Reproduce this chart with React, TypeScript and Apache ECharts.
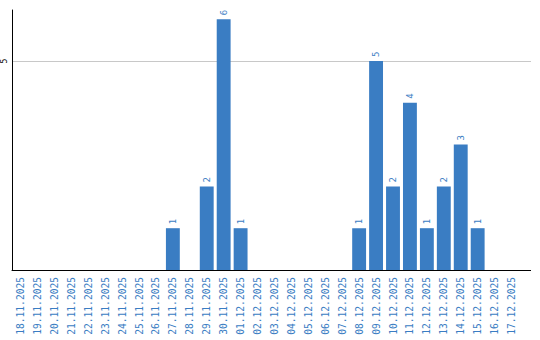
import React, { useEffect, useRef } from "react";
import * as echarts from "echarts";

const categories: string[] = [
  "18.11.2025", "19.11.2025", "20.11.2025", "21.11.2025", "22.11.2025",
  "23.11.2025", "24.11.2025", "25.11.2025", "26.11.2025", "27.11.2025",
  "28.11.2025", "29.11.2025", "30.11.2025", "01.12.2025", "02.12.2025",
  "03.12.2025", "04.12.2025", "05.12.2025", "06.12.2025", "07.12.2025",
  "08.12.2025", "09.12.2025", "10.12.2025", "11.12.2025", "12.12.2025",
  "13.12.2025", "14.12.2025", "15.12.2025", "16.12.2025", "17.12.2025",
];

const counts: number[] = [
  0, 0, 0, 0, 0, 0, 0, 0, 0, 1,
  0, 2, 6, 1, 0, 0, 0, 0, 0, 0,
  1, 5, 2, 4, 1, 2, 3, 1, 0, 0,
];

const yTickLabels: number[] = [5];

export default function App() {
  const ref = useRef<HTMLDivElement>(null);
  useEffect(() => {
    if (!ref.current) return;
    const chart = echarts.init(ref.current, null, { renderer: "svg" });
    const blue = "#3a7dc3";
    const gridColor = "#c8c8c8";
    chart.setOption({
      animation: false,
      grid: { left: 10, right: 20, top: 10, bottom: 70, containLabel: false },
      xAxis: {
        type: "category",
        data: categories,
        axisLine: { show: true, lineStyle: { color: "#000", width: 1 } },
        axisTick: { show: false },
        axisLabel: {
          rotate: 90,
          interval: 0,
          margin: 7,
          color: blue,
          fontFamily: "DejaVu Sans Mono",
          fontSize: 9.6,
        },
        splitLine: { show: false },
      },
      yAxis: {
        type: "value",
        min: 0,
        max: 6.22,
        interval: 5,
        axisLine: { show: true, lineStyle: { color: "#000", width: 1 } },
        axisTick: { show: false },
        axisLabel: {
          rotate: 90,
          margin: 4,
          color: "#000",
          fontFamily: "DejaVu Sans Mono",
          fontSize: 8,
          formatter: (v: number) => (yTickLabels.includes(v) ? String(v) : ""),
        },
        splitLine: {
          show: true,
          showMinLine: false,
          showMaxLine: false,
          lineStyle: { color: gridColor, width: 1 },
        },
      },
      series: [
        {
          type: "bar",
          data: counts,
          barCategoryGap: "18%",
          itemStyle: { color: blue },
          label: {
            show: true,
            position: "top",
            rotate: 90,
            align: "left",
            verticalAlign: "middle",
            distance: 4,
            color: blue,
            fontFamily: "DejaVu Sans Mono",
            fontSize: 9,
            formatter: (p: any) => (p.value ? String(p.value) : ""),
          },
        },
      ],
    });
    // extend the axis line and gridline past the last category, as in the reference
    const y0 = chart.convertToPixel({ yAxisIndex: 0 }, 0) as number;
    const lines: any[] = [];
    const xStart = 540 - 20;
    const xEnd = 531;
    lines.push({
      type: "line",
      shape: { x1: xStart, y1: Math.round(y0) + 0.5, x2: xEnd, y2: Math.round(y0) + 0.5 },
      style: { stroke: "#000", lineWidth: 1 },
      silent: true,
    });
    yTickLabels.forEach((v) => {
      const y = chart.convertToPixel({ yAxisIndex: 0 }, v) as number;
      lines.push({
        type: "line",
        shape: { x1: xStart, y1: Math.round(y) + 0.5, x2: xEnd, y2: Math.round(y) + 0.5 },
        style: { stroke: gridColor, lineWidth: 1 },
        silent: true,
      });
    });
    chart.setOption({ graphic: lines });
    return () => chart.dispose();
  }, []);
  return (
    <div
      ref={ref}
      style={{ position: "absolute", left: 0, top: 0, width: 540, height: 340 }}
    />
  );
}
